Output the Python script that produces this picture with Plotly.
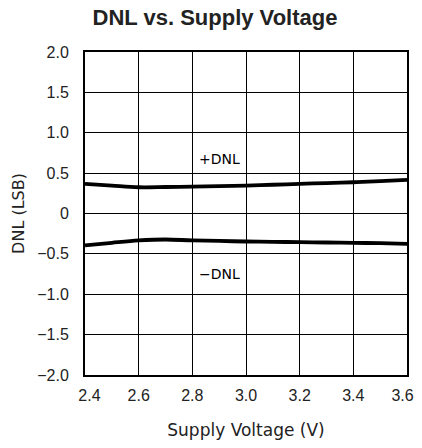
import plotly.graph_objects as go

voltage = [2.4, 2.5, 2.6, 2.7, 2.8, 2.9, 3.0, 3.1, 3.2, 3.3, 3.4, 3.5, 3.6]
dnl_pos = [0.367, 0.345, 0.325, 0.328, 0.334, 0.340, 0.346, 0.356, 0.367, 0.377, 0.387, 0.400, 0.417]
dnl_neg = [-0.396, -0.363, -0.334, -0.322, -0.334, -0.340, -0.347, -0.351, -0.355, -0.359, -0.363, -0.368, -0.375]

x_ticks = [2.4, 2.6, 2.8, 3.0, 3.2, 3.4, 3.6]
x_tick_text = ["\u00a0\u00a02.4", "2.6", "2.8", "3.0", "3.2", "3.4", "3.6\u00a0\u00a0"]
y_ticks = [-2.0, -1.5, -1.0, -0.5, 0, 0.5, 1.0, 1.5, 2.0]
y_tick_text = ["\u22122.0", "\u22121.5", "\u22121.0", "\u22120.5", "0", "0.5", "1.0", "1.5", "2.0"]

fig = go.Figure()
fig.add_trace(go.Scatter(x=voltage, y=dnl_pos, mode="lines", line=dict(color="black", width=3.8, shape="spline"), showlegend=False))
fig.add_trace(go.Scatter(x=voltage, y=dnl_neg, mode="lines", line=dict(color="black", width=3.8, shape="spline"), showlegend=False))

fig.add_annotation(x=2.9, y=0.68, text="+DNL", showarrow=False,
                   font=dict(family="DejaVu Sans", size=14, color="black"))
fig.add_annotation(x=2.9, y=-0.75, text="\u2212DNL", showarrow=False,
                   font=dict(family="DejaVu Sans", size=14, color="black"))

fig.update_layout(
    width=414, height=432,
    margin=dict(l=77, r=15, t=44, b=65, autoexpand=False),
    paper_bgcolor="white", plot_bgcolor="white",
    title=dict(text="<b>DNL vs. Supply Voltage</b>", x=0.5, xanchor="center",
               yref="container", y=1, yanchor="top", pad=dict(t=2),
               font=dict(family="Liberation Sans", size=22, color="#222"), automargin=False),
    font=dict(family="Liberation Sans", size=16, color="#222"),
)
fig.update_xaxes(range=[2.4, 3.6], tickvals=x_ticks, ticktext=x_tick_text,
                 showgrid=True, gridcolor="black", gridwidth=1.3,
                 showline=True, linecolor="black", linewidth=2, mirror=True,
                 ticks="", ticklabelstandoff=5, ticklabeloverflow="allow", zeroline=False, automargin=False,
                 title=dict(text="Supply Voltage (V)", font=dict(family="DejaVu Sans", size=17, color="#222"), standoff=21))
fig.update_yaxes(range=[-2.0, 2.0], tickvals=y_ticks, ticktext=y_tick_text,
                 showgrid=True, gridcolor="black", gridwidth=1.3,
                 showline=True, linecolor="black", linewidth=2, mirror=True,
                 ticks="", ticklabelstandoff=11, ticklabeloverflow="allow", zeroline=False, automargin=False,
                 title=dict(text="DNL (LSB)", font=dict(family="DejaVu Sans", size=16, color="#222"), standoff=9))

fig.write_html("out.html")
